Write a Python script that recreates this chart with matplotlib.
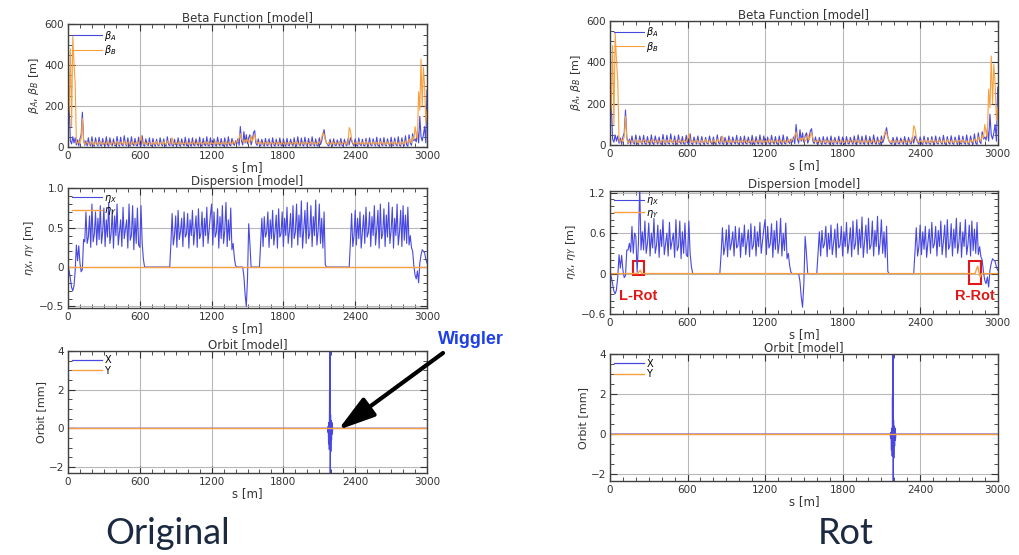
import numpy as np
import matplotlib
matplotlib.use('Agg')
from matplotlib import pyplot as plt, ticker
from matplotlib.patches import Rectangle, FancyArrowPatch

# sample spacing of the lattice functions [m]
s_step = 10
s_max = 3000

beta_a = [
    150, 200, 30, 15, 50, 20, 45, 10, 35, 5,
    40, 60, 170, 40, 8, 30, 5, 45, 12, 6,
    50, 10, 4, 45, 15, 5, 48, 8, 5, 42,
    12, 5, 50, 10, 4, 45, 15, 6, 40, 8,
    5, 52, 12, 4, 48, 10, 6, 55, 14, 5,
    45, 10, 4, 50, 15, 6, 42, 8, 5, 48,
    12, 5, 55, 10, 4, 40, 15, 6, 45, 8,
    5, 42, 12, 4, 38, 10, 6, 45, 14, 5,
    40, 10, 4, 50, 12, 6, 42, 8, 5, 38,
    12, 5, 45, 10, 4, 40, 15, 6, 48, 8,
    5, 42, 12, 4, 45, 10, 6, 40, 14, 5,
    48, 10, 4, 42, 12, 6, 50, 8, 5, 45,
    12, 5, 40, 10, 4, 48, 15, 6, 42, 8,
    5, 45, 12, 4, 50, 10, 6, 42, 20, 8,
    30, 15, 40, 8, 100, 30, 10, 75, 20, 60,
    15, 45, 60, 10, 30, 70, 80, 20, 8, 40,
    10, 5, 38, 12, 4, 42, 10, 6, 40, 14,
    5, 45, 10, 4, 38, 12, 6, 44, 8, 5,
    40, 12, 4, 42, 10, 6, 38, 15, 5, 45,
    8, 4, 50, 12, 6, 44, 10, 5, 48, 14,
    4, 42, 10, 6, 50, 12, 5, 40, 8, 4,
    45, 12, 30, 60, 85, 40, 20, 10, 5, 38,
    12, 4, 40, 10, 6, 35, 15, 5, 42, 8,
    4, 38, 12, 6, 40, 10, 45, 30, 15, 5,
    40, 10, 4, 44, 12, 6, 38, 8, 5, 42,
    12, 4, 45, 10, 6, 40, 14, 5, 48, 8,
    4, 42, 12, 6, 46, 10, 5, 40, 15, 4,
    48, 10, 6, 44, 12, 5, 50, 8, 4, 45,
    14, 6, 55, 10, 4, 60, 20, 8, 65, 30,
    40, 25, 80, 20, 150, 50, 30, 60, 100, 20,
    280,
]

beta_b = [
    120, 190, 480, 100, 540, 410, 310, 25, 15, 30,
    20, 40, 140, 30, 12, 20, 25, 15, 12, 22,
    28, 14, 12, 25, 20, 12, 22, 28, 15, 12,
    25, 18, 12, 30, 22, 14, 12, 26, 18, 12,
    20, 28, 15, 12, 24, 20, 14, 30, 16, 12,
    22, 26, 14, 12, 28, 18, 12, 24, 20, 14,
    30, 55, 25, 14, 22, 18, 12, 26, 20, 14,
    12, 24, 18, 14, 28, 16, 12, 22, 20, 14,
    26, 18, 12, 30, 24, 14, 20, 45, 18, 12,
    24, 20, 14, 28, 16, 12, 22, 18, 14, 26,
    20, 12, 24, 18, 14, 30, 16, 12, 22, 20,
    14, 26, 18, 12, 24, 20, 14, 28, 16, 12,
    22, 18, 14, 30, 20, 12, 24, 18, 14, 26,
    20, 12, 28, 16, 14, 24, 20, 12, 30, 18,
    20, 30, 25, 45, 65, 40, 30, 20, 35, 25,
    40, 20, 30, 55, 25, 45, 60, 35, 18, 22,
    14, 26, 18, 12, 24, 20, 14, 28, 16, 12,
    22, 18, 14, 26, 20, 12, 24, 18, 14, 28,
    16, 12, 22, 20, 14, 26, 18, 12, 24, 20,
    14, 28, 16, 12, 22, 18, 14, 26, 20, 12,
    24, 18, 14, 28, 16, 12, 22, 20, 14, 26,
    18, 30, 45, 70, 60, 35, 20, 14, 24, 18,
    12, 26, 20, 14, 22, 18, 12, 28, 16, 14,
    24, 20, 12, 26, 18, 95, 80, 40, 20, 14,
    22, 18, 12, 26, 20, 14, 24, 16, 12, 28,
    18, 14, 22, 20, 12, 26, 16, 14, 24, 18,
    12, 28, 20, 14, 22, 18, 12, 26, 16, 14,
    24, 20, 12, 28, 18, 14, 22, 16, 12, 26,
    20, 14, 30, 25, 18, 40, 30, 20, 50, 35,
    100, 60, 40, 270, 180, 430, 200, 390, 300, 120,
    180,
]

eta_x_orig = [
    0.0, -0.05, -0.15, -0.26, -0.30, -0.24, -0.05, 0.28, 0.08, 0.27,
    0.05, -0.06, -0.03, 0.35, 0.32, 0.70, 0.30, 0.38, 0.65, 0.25,
    0.80, 0.32, 0.42, 0.70, 0.28, 0.62, 0.35, 0.78, 0.30, 0.45,
    0.75, 0.26, 0.60, 0.38, 0.82, 0.30, 0.42, 0.72, 0.24, 0.65,
    0.40, 0.80, 0.28, 0.44, 0.60, 0.26, 0.76, 0.36, 0.48, 0.60,
    0.24, 0.80, 0.34, 0.40, 0.78, 0.22, 0.62, 0.30, 0.75, 0.28,
    0.25, 0.78, 0.30, 0.10, 0.0, 0.0, 0.0, 0.0, 0.0, 0.0,
    0.0, 0.0, 0.0, 0.0, 0.0, 0.0, 0.0, 0.0, 0.0, 0.0,
    0.0, 0.0, 0.0, 0.0, 0.0, 0.0, 0.30, 0.68, 0.28, 0.40,
    0.65, 0.25, 0.72, 0.35, 0.45, 0.62, 0.26, 0.70, 0.38, 0.42,
    0.68, 0.24, 0.60, 0.40, 0.72, 0.28, 0.46, 0.65, 0.25, 0.74,
    0.36, 0.42, 0.70, 0.26, 0.62, 0.40, 0.76, 0.30, 0.48, 0.66,
    0.80, 0.28, 0.70, 0.38, 0.44, 0.74, 0.24, 0.64, 0.36, 0.78,
    0.30, 0.46, 0.82, 0.26, 0.60, 0.34, 0.75, 0.22, 0.30, 0.12,
    0.02, 0.0, 0.0, 0.0, 0.0, 0.0, 0.0, -0.12, -0.35, -0.50,
    -0.15, 0.55, 0.30, 0.0, 0.0, 0.0, 0.0, 0.0, 0.0, 0.0,
    0.0, 0.30, 0.62, 0.26, 0.64, 0.38, 0.44, 0.70, 0.25, 0.60,
    0.36, 0.72, 0.28, 0.45, 0.66, 0.24, 0.74, 0.38, 0.42, 0.70,
    0.26, 0.62, 0.40, 0.76, 0.30, 0.46, 0.68, 0.25, 0.78, 0.36,
    0.44, 0.80, 0.28, 0.66, 0.38, 0.84, 0.24, 0.48, 0.72, 0.30,
    0.82, 0.36, 0.42, 0.78, 0.26, 0.64, 0.40, 0.85, 0.28, 0.46,
    0.80, 0.30, 0.62, 0.24, 0.70, 0.03, 0.0, 0.0, 0.0, 0.0,
    0.0, 0.0, 0.0, 0.0, 0.0, 0.0, 0.0, 0.0, 0.0, 0.0,
    0.0, 0.0, 0.0, 0.0, 0.0, 0.0, 0.32, 0.68, 0.26, 0.40,
    0.72, 0.28, 0.62, 0.36, 0.70, 0.24, 0.46, 0.66, 0.30, 0.76,
    0.38, 0.44, 0.70, 0.26, 0.64, 0.40, 0.78, 0.28, 0.48, 0.72,
    0.24, 0.80, 0.36, 0.42, 0.74, 0.26, 0.66, 0.38, 0.82, 0.30,
    0.46, 0.76, 0.24, 0.62, 0.40, 0.80, 0.28, 0.44, 0.72, 0.26,
    0.78, 0.34, 0.66, 0.30, 0.76, 0.28, 0.40, 0.25, 0.20, 0.02,
    -0.10, -0.15, -0.05, -0.20, 0.05, 0.15, 0.22, 0.20, 0.18, 0.10,
    0.05,
]

# rotated lattice: same except near the L-Rot section (s = 140..240 m)
eta_x_rot = list(eta_x_orig)
eta_x_rot[14:25] = [0.35, 0.45, 0.32, 0.70, 0.30, 0.60, 0.55, 0.02, 0.45, 1.30, 0.35]

eta_y_orig_s = [0, 3000]
eta_y_orig = [0.0, 0.0]
eta_y_rot_s = [0, 215, 225, 235, 245, 2825, 2835, 2845, 2855, 2865, 2875, 3000]
eta_y_rot = [0.0, 0.0, 0.03, 0.05, 0.0, 0.0, 0.06, 0.11, 0.02, -0.05, 0.0, 0.0]

orbit_s = [0, 2168, 2172, 2175, 2178, 2181, 2184, 2186, 2188, 2190, 2192,
           2194, 2196, 2199, 2202, 2205, 2208, 2212, 3000]
orbit_x = [0, 0, -0.2, 0.1, -0.8, 0.3, -1.1, 1.9, -0.5, 4.2, -2.4,
           0.7, -1.2, 0.4, -0.6, 0.3, -0.3, 0, 0]
orbit_y_s = [0, 3000]
orbit_y = [0.0, 0.0]

x_ticks = [0, 600, 1200, 1800, 2400, 3000]

s_grid = np.arange(0, s_max + 1, s_step)

blue = '#4848e0'
orange = '#f8a040'

W, H = 1019, 555
fig = plt.figure(figsize=(W / 100, H / 100), dpi=100)
plt.rcParams['font.family'] = ['DejaVu Sans']


def frac(x0, y0, x1, y1):
    # pixel box -> figure fraction rect
    return [x0 / W, 1 - y1 / H, (x1 - x0) / W, (y1 - y0) / H]


def style(ax, ylim, yticks, ylabels, yminor, title, ylabel):
    ax.set_xlim(0, 3000)
    ax.set_ylim(*ylim)
    ax.set_xticks(x_ticks)
    ax.set_xticklabels([str(t) for t in x_ticks])
    ax.set_yticks(yticks)
    ax.set_yticklabels(ylabels)
    ax.xaxis.set_minor_locator(ticker.MultipleLocator(100))
    ax.yaxis.set_minor_locator(ticker.AutoMinorLocator(yminor))
    ax.tick_params(which='both', direction='in', top=True, right=True,
                   labelsize=7.5, colors='#333333', pad=3)
    ax.tick_params(which='major', length=5, width=0.8)
    ax.tick_params(which='minor', length=3, width=0.6)
    ax.grid(True, which='major', color='#b8b8b8', lw=0.8)
    ax.set_axisbelow(True)
    for sp in ax.spines.values():
        sp.set_color('#404040')
        sp.set_linewidth(1.0)
    ax.set_title(title, fontsize=8.5, pad=2, color='#333333')
    ax.set_ylabel(ylabel, fontsize=8, color='#333333', labelpad=2)
    ax.set_xlabel('s [m]', fontsize=8.5, color='#333333', labelpad=0)
    ax.legend(loc='upper left', frameon=False, fontsize=7, handlelength=3.0,
              handletextpad=0.3, labelspacing=0.05, borderaxespad=0.45,
              borderpad=0.0)


columns = [
    dict(beta=frac(68, 24.3, 427, 147), disp=frac(68, 188.3, 427, 308),
         orbit=frac(68, 351, 427, 473.3), eta_x=eta_x_orig,
         eta_y_s=eta_y_orig_s, eta_y=eta_y_orig,
         disp_lim=(-0.52, 1.0), disp_ticks=[-0.5, 0, 0.5, 1.0],
         disp_labels=['\u22120.5', '0', '0.5', '1.0'], disp_minor=5,
         orbit_lim=(-2.33, 4)),
    dict(beta=frac(610, 20.7, 997.7, 145.3), disp=frac(610, 190.7, 997.7, 314),
         orbit=frac(610, 354.3, 997.7, 481), eta_x=eta_x_rot,
         eta_y_s=eta_y_rot_s, eta_y=eta_y_rot,
         disp_lim=(-0.6, 1.23), disp_ticks=[-0.6, 0, 0.6, 1.2],
         disp_labels=['\u22120.6', '0', '0.6', '1.2'], disp_minor=6,
         orbit_lim=(-2.35, 4)),
]

disp_axes = []
for col in columns:
    ax1 = fig.add_axes(col['beta'])
    ax1.plot(s_grid, beta_a, color=blue, lw=0.8, label=r'$\beta_A$')
    ax1.plot(s_grid, beta_b, color=orange, lw=0.8, label=r'$\beta_B$')
    style(ax1, (0, 600), [0, 200, 400, 600], ['0', '200', '400', '600'], 4,
          'Beta Function [model]', r'$\beta_A$, $\beta_B$ [m]')

    ax2 = fig.add_axes(col['disp'])
    ax2.plot(s_grid, col['eta_x'], color=blue, lw=0.8, label=r'$\eta_X$')
    ax2.plot(col['eta_y_s'], col['eta_y'], color=orange, lw=1.0, label=r'$\eta_Y$')
    style(ax2, col['disp_lim'], col['disp_ticks'], col['disp_labels'],
          col['disp_minor'], 'Dispersion [model]', r'$\eta_X$, $\eta_Y$ [m]')
    disp_axes.append(ax2)

    ax3 = fig.add_axes(col['orbit'])
    ax3.plot(orbit_s, orbit_x, color=blue, lw=0.9, label='X')
    ax3.plot(orbit_y_s, orbit_y, color=orange, lw=1.0, label='Y')
    style(ax3, col['orbit_lim'], [-2, 0, 2, 4], ['\u22122', '0', '2', '4'], 4,
          'Orbit [model]', 'Orbit [mm]')

# rotation markers on the Rot dispersion plot
axr = disp_axes[1]
red = '#e01818'
axr.add_patch(Rectangle((176, -0.02), 89, 0.21, fill=False, ec=red, lw=1.5))
axr.add_patch(Rectangle((2778, -0.15), 90, 0.34, fill=False, ec=red, lw=1.5))
axr.text(217, -0.33, 'L-Rot', color=red, fontsize=10.5, fontweight='bold',
         ha='center', va='center', family='Liberation Sans')
axr.text(2823, -0.33, 'R-Rot', color=red, fontsize=10.5, fontweight='bold',
         ha='center', va='center', family='Liberation Sans', clip_on=False)

# wiggler callout
fig.text(471 / W, 1 - 339 / H, 'Wiggler', color='#1f3fe6', fontsize=13,
         fontweight='bold', ha='center', va='center', family='Liberation Sans')
fig.add_artist(FancyArrowPatch(
    (443 / W, 1 - 353 / H), (338 / W, 1 - 430 / H), transform=fig.transFigure,
    arrowstyle='-|>,head_length=1.5,head_width=0.45', mutation_scale=15,
    lw=3, color='black', shrinkA=0, shrinkB=0))

fig.text(168 / W, 1 - 533 / H, 'Original', color='#1b2a41', fontsize=26,
         ha='center', va='center', family='Lato')
fig.text(846 / W, 1 - 533 / H, 'Rot', color='#1b2a41', fontsize=26,
         ha='center', va='center', family='Lato')

fig.savefig('out.png', dpi=100)
